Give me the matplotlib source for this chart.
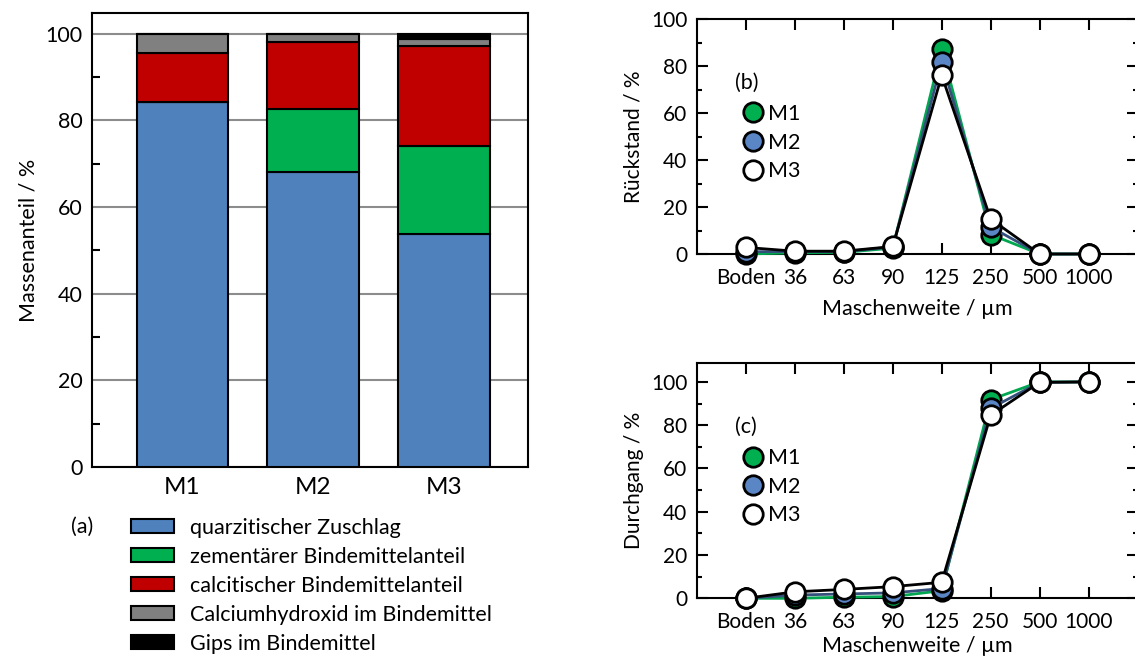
import numpy as np
import matplotlib.pyplot as plt
from matplotlib.patches import Patch
from matplotlib.lines import Line2D
from matplotlib.ticker import MultipleLocator

plt.rcParams['font.family'] = ['Lato', 'DejaVu Sans']

# (a) Zusammensetzung der Mörtel
mischungen = ['M1', 'M2', 'M3']
quarz = [84.2, 68.1, 53.7]
zement = [0.0, 14.6, 20.3]
calcit = [11.4, 15.5, 23.1]
caoh2 = [4.4, 1.8, 1.7]
gips = [0.0, 0.0, 1.2]

anteile = [quarz, zement, calcit, caoh2, gips]
namen = ['quarzitischer Zuschlag', 'zementärer Bindemittelanteil',
         'calcitischer Bindemittelanteil', 'Calciumhydroxid im Bindemittel',
         'Gips im Bindemittel']
farben = ['#4f81bd', '#00b050', '#c00000', '#808080', '#000000']

# (b), (c) Siebanalyse
maschen = ['Boden', '36', '63', '90', '125', '250', '500', '1000']
rueck_m1 = [0.0, 0.5, 0.7, 2.5, 87.3, 8.3, 0.0, 0.0]
rueck_m2 = [1.0, 1.0, 1.0, 3.0, 81.8, 11.5, 0.0, 0.0]
rueck_m3 = [2.8, 1.2, 1.2, 3.2, 76.1, 14.9, 0.0, 0.0]
durch_m1 = [0.0, 0.0, 0.5, 0.8, 3.5, 91.8, 100.0, 100.0]
durch_m2 = [0.0, 1.5, 2.0, 2.5, 4.5, 87.8, 99.8, 100.0]
durch_m3 = [0.0, 3.0, 4.1, 5.4, 7.4, 84.6, 99.8, 100.0]

W, H = 1135, 659
fig = plt.figure(figsize=(W / 100, H / 100), dpi=100)


def box(l, t, r, b):
    return [l / W, 1 - b / H, (r - l) / W, (b - t) / H]


# ---- (a) gestapelte Balken ----
ax = fig.add_axes(box(92, 13, 528, 467))
x = np.arange(len(mischungen))
unten = np.zeros(len(mischungen))
for werte, farbe in zip(anteile, farben):
    ax.bar(x, werte, 0.7, bottom=unten, color=farbe, edgecolor='black',
           linewidth=1.5, zorder=3)
    unten += np.array(werte)
ax.set_xlim(-0.69, 2.64)
ax.set_ylim(0, 104.8)
ax.set_xticks(x)
ax.set_xticklabels(mischungen, fontsize=17.5)
ax.tick_params(axis='x', length=0, pad=7)
ax.yaxis.set_major_locator(MultipleLocator(20))
ax.yaxis.set_minor_locator(MultipleLocator(10))
ax.tick_params(axis='y', which='major', direction='in', length=0, labelsize=15.5, pad=7)
ax.tick_params(axis='y', which='minor', direction='in', length=6, width=1.5)
ax.grid(axis='y', which='major', color='#8c8c8c', linewidth=1.5, zorder=0)
ax.set_axisbelow(True)
for s in ax.spines.values():
    s.set_linewidth(1.5)
ax.set_ylabel('Massenanteil / %', fontsize=15.5, labelpad=5)

fig.text(71 / W, 1 - 527 / H, '(a)', fontsize=15.5, va='center')
griffe = [Patch(facecolor=f, edgecolor='black', linewidth=1.5) for f in farben]
fig.legend(griffe, namen, loc='upper left', bbox_to_anchor=(122 / W, 1 - 509 / H),
           frameon=False, fontsize=15.5, handlelength=2.0, handleheight=0.65,
           handletextpad=0.75, labelspacing=0.42, borderaxespad=0)


# ---- (b), (c) Siebkurven ----
def siebkurve(ax, reihen, ylabel, ymax, buchstabe, xlabelpad):
    pos = np.arange(len(maschen))
    stile = [('#00a650', '#00b050'), ('#34507a', '#5b86c6'), ('black', 'white')]
    for werte, (linie, flaeche), name in zip(reihen, stile, ['M1', 'M2', 'M3']):
        ax.plot(pos, werte, color=linie, linewidth=2, marker='o', markersize=14,
                markerfacecolor=flaeche, markeredgecolor='black',
                markeredgewidth=2, clip_on=False, zorder=3)
    ax.set_xlim(-1, 8)
    ax.set_ylim(0, ymax)
    ax.set_xticks(pos)
    ax.set_xticklabels(maschen)
    ax.yaxis.set_major_locator(MultipleLocator(20))
    ax.yaxis.set_minor_locator(MultipleLocator(10))
    ax.tick_params(which='major', direction='in', length=8, width=1.5,
                   top=True, right=True, labelsize=15)
    ax.tick_params(axis='x', which='major', pad=10)
    ax.tick_params(axis='y', which='major', pad=7)
    ax.tick_params(which='minor', direction='in', length=3.5, width=1.5,
                   right=True, left=True)
    ax.tick_params(axis='x', which='minor', bottom=False, top=False)
    for s in ax.spines.values():
        s.set_linewidth(1.5)
    ax.set_xlabel('Maschenweite / µm', fontsize=15.5, labelpad=xlabelpad)
    ax.set_ylabel(ylabel, fontsize=15, labelpad=5)
    ax.text(0.087, 0.728, buchstabe, transform=ax.transAxes, fontsize=15.5,
            va='center')
    griffe = [Line2D([], [], linestyle='none', marker='o', markersize=14,
                     markerfacecolor=f, markeredgecolor='black', markeredgewidth=2)
              for _, f in stile]
    ax.legend(griffe, ['M1', 'M2', 'M3'], loc='upper left',
              bbox_to_anchor=(0.088, 0.676), frameon=False, fontsize=15.5,
              handlelength=0.8, handletextpad=0.3, labelspacing=0.4,
              borderaxespad=0)


axb = fig.add_axes(box(697, 19.3, 1137.5, 254))
siebkurve(axb, [rueck_m1, rueck_m2, rueck_m3], 'Rückstand / %', 100, '(b)', 8)

axc = fig.add_axes(box(697, 363.3, 1137.5, 598.3))
siebkurve(axc, [durch_m1, durch_m2, durch_m3], 'Durchgang / %', 108.6, '(c)', 3)

fig.savefig('out.png', dpi=100)
